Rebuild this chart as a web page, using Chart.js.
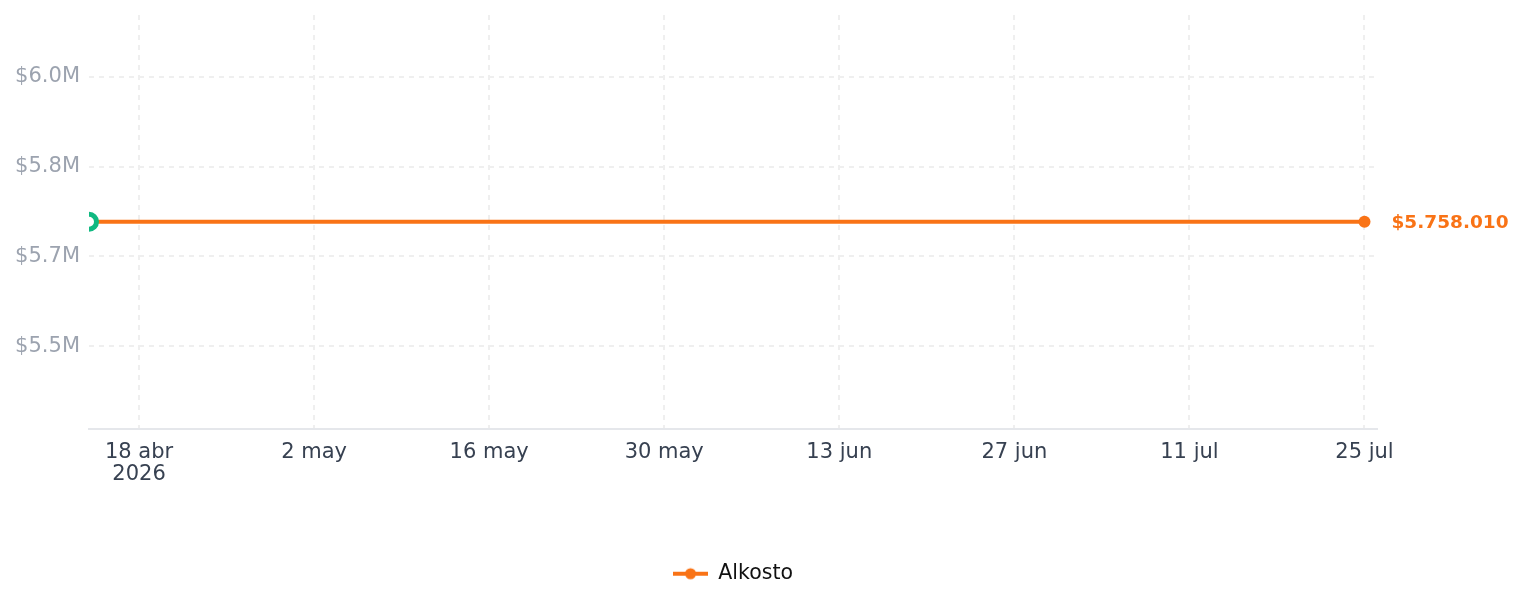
<!DOCTYPE html>
<html>
<head>
<meta charset="utf-8">
<script src="https://cdn.jsdelivr.net/npm/chart.js@4/dist/chart.umd.min.js"></script>
<style>
  html, body { margin: 0; padding: 0; background: #ffffff; }
  #wrap { width: 1524px; height: 607px; position: relative; }
</style>
</head>
<body>
<div id="wrap"><canvas id="c"></canvas></div>
<script>
// ---- Data ----
const seriesName = 'Alkosto';
const seriesDates = ['2026-04-14', '2026-07-25'];
const alkostoValues = [5758010, 5758010];
const markerDates = ['2026-04-14'];
const markerValues = [5758010];
const xTickDates = ['2026-04-18', '2026-05-02', '2026-05-16', '2026-05-30', '2026-06-13', '2026-06-27', '2026-07-11', '2026-07-25'];
const xTickLabels = [['18 abr', '2026'], '2 may', '16 may', '30 may', '13 jun', '27 jun', '11 jul', '25 jul'];
const xRange = ['2026-04-14', '2026-07-26'];
const yTickValues = [5550000, 5700000, 5850000, 6000000];
const yTickLabels = ['$5.5M', '$5.7M', '$5.8M', '$6.0M'];
const yRange = [5412529, 6103491];

// ---- Helpers ----
const FONT = "'DejaVu Sans', sans-serif";
const ORANGE = '#f97316';
const GREEN = '#10b981';
const toMs = d => Date.parse(d + 'T00:00:00Z');
const fmtMoney = v => '$' + String(Math.round(v)).replace(/\B(?=(\d{3})+(?!\d))/g, '.');

// legend icon: line with a dot
const icon = document.createElement('canvas');
icon.width = 35; icon.height = 14;
(function () {
  const g = icon.getContext('2d');
  g.strokeStyle = ORANGE; g.lineWidth = 4;
  g.beginPath(); g.moveTo(0, 7); g.lineTo(35, 7); g.stroke();
  g.fillStyle = ORANGE;
  g.beginPath(); g.arc(17.5, 7, 5.5, 0, Math.PI * 2); g.fill();
})();

const endLabelPlugin = {
  id: 'endLabel',
  afterDatasetsDraw(chart) {
    const meta = chart.getDatasetMeta(0);
    const pts = meta.data;
    if (!pts.length) return;
    const last = pts[pts.length - 1];
    const val = chart.data.datasets[0].data[pts.length - 1].y;
    const ctx = chart.ctx;
    ctx.save();
    ctx.font = "bold 18.5px " + FONT;
    ctx.fillStyle = ORANGE;
    ctx.textAlign = 'left';
    ctx.textBaseline = 'middle';
    ctx.fillText(fmtMoney(val), last.x + 27, last.y + 1);
    ctx.restore();
  }
};

new Chart(document.getElementById('c'), {
  type: 'line',
  data: {
    datasets: [
      {
        label: seriesName,
        data: seriesDates.map((d, i) => ({ x: toMs(d), y: alkostoValues[i] })),
        borderColor: ORANGE,
        backgroundColor: ORANGE,
        borderWidth: 4,
        pointRadius: seriesDates.map((d, i) => i === seriesDates.length - 1 ? 6 : 0),
        pointBorderWidth: 0,
        pointBackgroundColor: ORANGE,
        tension: 0,
        order: 1,
        clip: 0
      },
      {
        label: 'inicio',
        data: markerDates.map((d, i) => ({ x: toMs(d), y: markerValues[i] })),
        showLine: false,
        pointRadius: 7.5,
        pointBorderWidth: 5,
        pointBorderColor: GREEN,
        pointBackgroundColor: '#ffffff',
        borderColor: GREEN,
        backgroundColor: '#ffffff',
        order: 0,
        clip: 0
      }
    ]
  },
  options: {
    responsive: true,
    maintainAspectRatio: false,
    animation: false,
    layout: { padding: { left: 0, right: 147, top: 15, bottom: 13 } },
    scales: {
      x: {
        type: 'linear',
        min: toMs(xRange[0]),
        max: toMs(xRange[1]),
        afterBuildTicks: s => { s.ticks = xTickDates.map(d => ({ value: toMs(d) })); },
        afterFit: s => { s.height = 125; s.paddingLeft = 0; s.paddingRight = 0; },
        ticks: {
          autoSkip: false,
          maxRotation: 0,
          padding: 13,
          color: '#374151',
          font: { size: 21, family: FONT, lineHeight: 1.05 },
          callback: (v, i) => xTickLabels[i]
        },
        grid: { color: '#efefef', lineWidth: 2, drawTicks: false },
        border: { display: true, color: '#e5e7eb', width: 2, dash: [5, 5] }
      },
      y: {
        type: 'linear',
        min: yRange[0],
        max: yRange[1],
        afterBuildTicks: s => { s.ticks = yTickValues.map(v => ({ value: v })); },
        afterFit: s => { s.width = 89; s.paddingTop = 0; s.paddingBottom = 0; },
        ticks: {
          padding: 9,
          color: '#9ca3af',
          font: { size: 21, family: FONT },
          callback: (v, i) => yTickLabels[i]
        },
        grid: { color: '#efefef', lineWidth: 2, drawTicks: false },
        border: { display: false, dash: [5, 5] }
      }
    },
    plugins: {
      tooltip: { enabled: false },
      legend: {
        position: 'bottom',
        fullSize: false,
        labels: {
          usePointStyle: true,
          pointStyle: icon,
          pointStyleWidth: 35,
          padding: 10,
          color: '#111111',
          font: { size: 20.5, family: FONT },
          filter: item => item.datasetIndex === 0
        }
      }
    }
  },
  plugins: [endLabelPlugin]
});
</script>
</body>
</html>
